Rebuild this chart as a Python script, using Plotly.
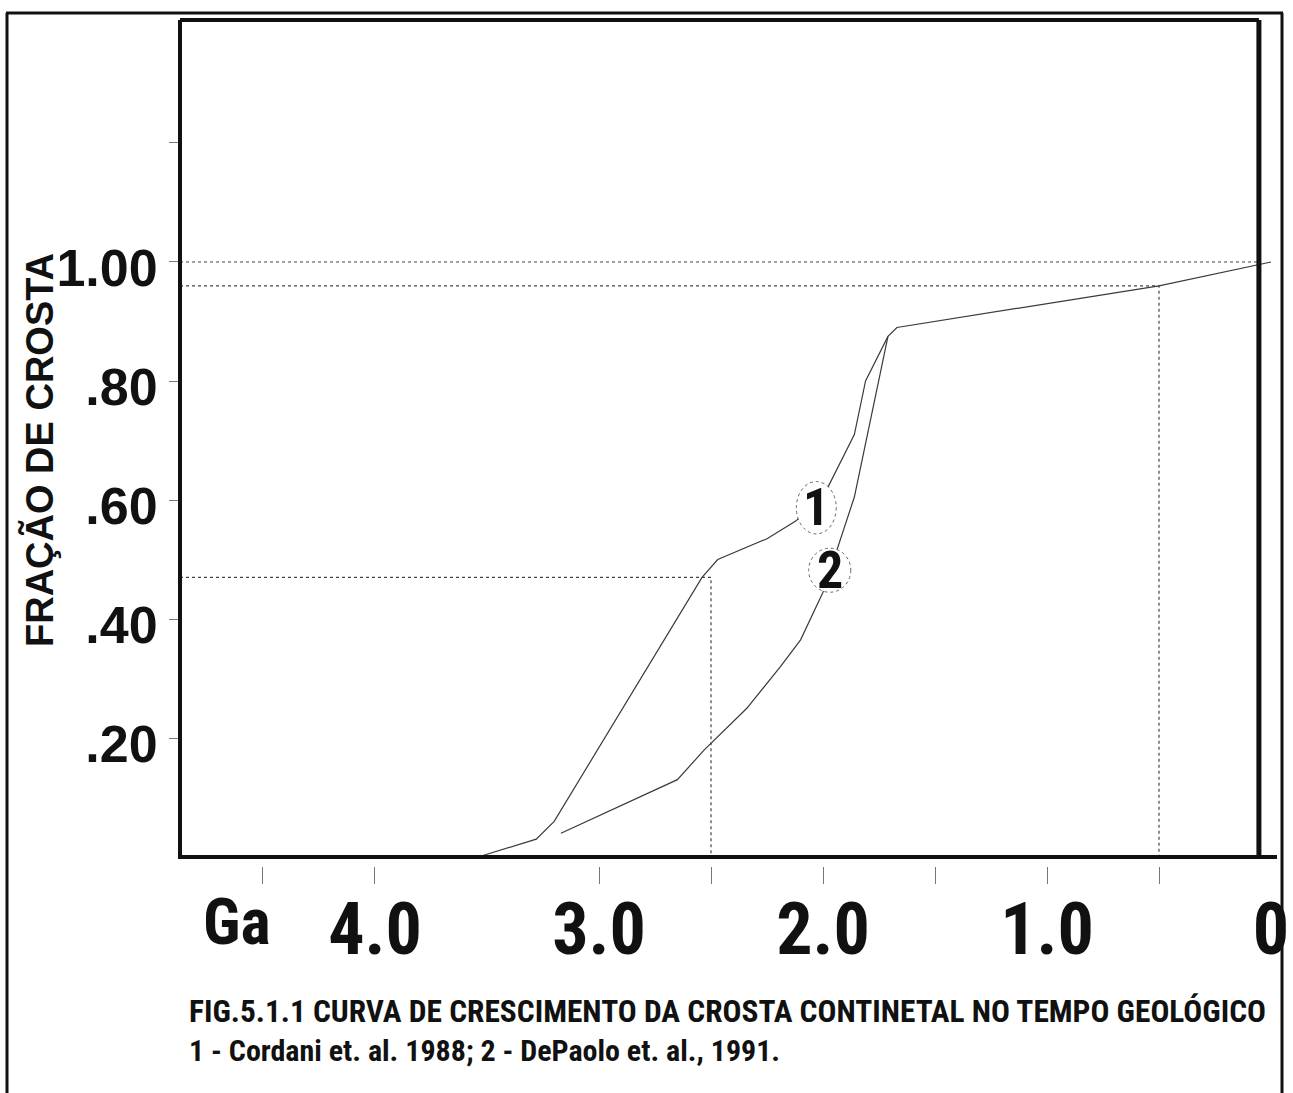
import plotly.graph_objects as go

# Continental crust growth: cumulative crust fraction against age (Ga)
CORDANI_AGE = [3.54, 3.28, 3.20, 2.54, 2.47, 2.25, 2.12, 1.98, 1.86, 1.81, 1.71, 1.67, 0.50, 0.00]
CORDANI_FRAC = [0.00, 0.03, 0.06, 0.47, 0.50, 0.535, 0.565, 0.62, 0.71, 0.80, 0.875, 0.89, 0.96, 1.00]

DEPAOLO_AGE = [3.17, 2.76, 2.65, 2.53, 2.34, 2.19, 2.10, 2.00, 1.86, 1.71]
DEPAOLO_FRAC = [0.04, 0.11, 0.13, 0.18, 0.25, 0.32, 0.365, 0.445, 0.605, 0.875]

# dotted read-off lines (age, fraction)
GUIDE_AGES = [2.5, 0.5]
GUIDE_FRACS = [0.47, 0.96]
FULL_FRAC = 1.0

X_TICKS = [4.5, 4.0, 3.0, 2.5, 2.0, 1.5, 1.0, 0.5]
X_LABEL_VALS = [4.0, 3.0, 2.0, 1.0, 0.0]
X_LABEL_TEXT = ["4.0", "3.0", "2.0", "1.0", "0"]
Y_TICKS = [0.2, 0.4, 0.6, 0.8, 1.0, 1.2]
Y_TICK_TEXT = [".20", ".40", ".60", ".80", "1.00", ""]

CURVE_TAGS = ["1", "2"]
TAG_AGE = [2.03, 1.97]
TAG_FRAC = [0.587, 0.482]
TAG_RX = [0.089, 0.094]
TAG_RY = [0.044, 0.037]

W, H = 1293, 1093
ML, MR, MT, MB = 180, 3, 20, 227
PW, PH = W - ML - MR, H - MT - MB
XR = [4.8705, -0.0848]
YR = [-0.0151, 1.4067]

NARROW = "Roboto Condensed, Open Sans Condensed, DejaVu Sans Condensed, sans-serif"
ARIAL = "Liberation Sans, Arial, Helvetica, sans-serif"
INK = "#111111"
CURVE = "#3a3a3a"
DOTS = "#444444"


def paper_x(px):
    return (px - ML) / PW


def paper_y(py):
    return (H - MB - py) / PH


def age_to_paper(a):
    return (a - XR[0]) / (XR[1] - XR[0])


def frac_to_paper(f):
    return (f - YR[0]) / (YR[1] - YR[0])


RIGHT_EDGE_AGE = 0.054

fig = go.Figure()

# dotted guides
guide_style = dict(color=DOTS, width=1.2, dash="dot")
fig.add_trace(go.Scatter(x=[XR[0], RIGHT_EDGE_AGE], y=[FULL_FRAC, FULL_FRAC], mode="lines",
                         line=guide_style, hoverinfo="skip", showlegend=False))
for a, f in zip(GUIDE_AGES, GUIDE_FRACS):
    fig.add_trace(go.Scatter(x=[XR[0], a, a], y=[f, f, 0], mode="lines",
                             line=guide_style, hoverinfo="skip", showlegend=False))

# growth curves
fig.add_trace(go.Scatter(x=CORDANI_AGE, y=CORDANI_FRAC, mode="lines", name="Cordani et al. 1988",
                         line=dict(color=CURVE, width=1.2), showlegend=False))
fig.add_trace(go.Scatter(x=DEPAOLO_AGE, y=DEPAOLO_FRAC, mode="lines", name="DePaolo et al. 1991",
                         line=dict(color=CURVE, width=1.2), showlegend=False))

# overlay axis carrying the large age labels
fig.add_trace(go.Scatter(x=[X_LABEL_VALS[0]], y=[0.5], xaxis="x2", mode="markers",
                         marker=dict(opacity=0), hoverinfo="skip", showlegend=False))

shapes = []
# circled curve tags
for a, f, rx, ry in zip(TAG_AGE, TAG_FRAC, TAG_RX, TAG_RY):
    shapes.append(dict(type="circle", xref="x", yref="y", x0=a + rx, x1=a - rx, y0=f - ry, y1=f + ry,
                       line=dict(color="#666666", width=1, dash="dot"), fillcolor="white", layer="above"))

# inner plot frame
fx_right = age_to_paper(RIGHT_EDGE_AGE)
fy_zero = frac_to_paper(0)
frame = dict(color=INK, width=4)
shapes += [
    dict(type="line", xref="paper", yref="paper", x0=0, x1=fx_right, y0=1, y1=1, line=frame),
    dict(type="line", xref="paper", yref="paper", x0=0, x1=0, y0=fy_zero, y1=1, line=frame),
    dict(type="line", xref="paper", yref="paper", x0=fx_right, x1=fx_right, y0=fy_zero, y1=1,
         line=dict(color=INK, width=5)),
    dict(type="line", xref="paper", yref="paper", x0=paper_x(178), x1=paper_x(1277), y0=fy_zero, y1=fy_zero,
         line=frame),
]
# outer page frame
outer = dict(color=INK, width=3)
shapes += [
    dict(type="line", xref="paper", yref="paper", x0=paper_x(6), x1=paper_x(1283), y0=paper_y(13), y1=paper_y(13), line=outer),
    dict(type="line", xref="paper", yref="paper", x0=paper_x(7), x1=paper_x(7), y0=paper_y(13), y1=paper_y(H + 2), line=outer),
    dict(type="line", xref="paper", yref="paper", x0=paper_x(1282), x1=paper_x(1282), y0=paper_y(13), y1=paper_y(H + 2), line=outer),
]

annotations = []
for t, a, f in zip(CURVE_TAGS, TAG_AGE, TAG_FRAC):
    annotations.append(dict(x=a, y=f, xref="x", yref="y", text=t, showarrow=False,
                            xanchor="center", yanchor="middle",
                            font=dict(family=NARROW, size=52, color=INK, weight="bold")))

annotations += [
    dict(x=paper_x(40), y=paper_y(450), xref="paper", yref="paper", text="FRAÇÃO DE CROSTA",
         textangle=-90, showarrow=False, xanchor="center", yanchor="middle",
         font=dict(family=ARIAL, size=38, color=INK, weight="bold")),
    dict(x=paper_x(237), y=paper_y(922), xref="paper", yref="paper", text="Ga", showarrow=False,
         xanchor="center", yanchor="middle",
         font=dict(family=NARROW, size=64, color=INK, weight="bold")),
    dict(x=paper_x(187), y=paper_y(1011), xref="paper", yref="paper", xanchor="left", yanchor="middle",
         text="FIG.5.1.1 CURVA DE CRESCIMENTO DA CROSTA CONTINETAL NO TEMPO GEOLÓGICO",
         showarrow=False, font=dict(family=NARROW, size=31.4, color=INK, weight="bold")),
    dict(x=paper_x(187), y=paper_y(1050), xref="paper", yref="paper", xanchor="left", yanchor="middle",
         text="1 - Cordani et. al. 1988; 2 - DePaolo et. al., 1991.",
         showarrow=False, font=dict(family=NARROW, size=30, color=INK, weight="bold")),
]

fig.update_layout(
    width=W, height=H,
    margin=dict(l=ML, r=MR, t=MT, b=MB, pad=0),
    paper_bgcolor="white", plot_bgcolor="white",
    showlegend=False,
    xaxis=dict(range=XR, showgrid=False, zeroline=False, showline=False,
               tickmode="array", tickvals=X_TICKS, ticks="outside", ticklen=17, tickwidth=1,
               tickcolor="#777777", showticklabels=False),
    xaxis2=dict(range=XR, overlaying="x", matches="x", side="bottom", anchor="y",
                showgrid=False, zeroline=False, showline=False,
                tickmode="array", tickvals=X_LABEL_VALS, ticktext=X_LABEL_TEXT, ticks="",
                ticklabelstandoff=15,
                tickfont=dict(family=NARROW, size=72, color=INK, weight="bold")),
    yaxis=dict(range=YR, showgrid=False, zeroline=False, showline=False,
               tickmode="array", tickvals=Y_TICKS, ticktext=Y_TICK_TEXT, ticks="outside",
               ticklen=10, tickwidth=1, tickcolor="#777777",
               ticklabelshift=6, ticklabelstandoff=1,
               tickfont=dict(family=ARIAL, size=52, color=INK, weight="bold")),
    shapes=shapes,
    annotations=annotations,
)

fig.write_html("out.html")
